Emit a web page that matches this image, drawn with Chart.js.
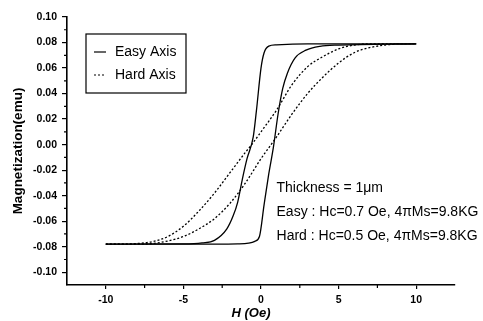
<!DOCTYPE html>
<html>
<head>
<meta charset="utf-8">
<script src="https://cdn.jsdelivr.net/npm/chart.js@4.4.1/dist/chart.umd.min.js"></script>
<style>
	html, body { margin: 0; padding: 0; background: #fff; }
	#wrap { width: 483px; height: 321px; position: relative; }
</style>
</head>
<body>
<div id="wrap"><canvas id="loop_chart"></canvas></div>
<script>
// cycles M(H) du film, H en Oe, M en emu (branches rangées par H croissant)
const easyAscH = [-10, -3, -1.5, -0.8, -0.4, -0.1, 0.2, 0.5, 0.8, 1.1, 1.4, 1.7, 2.2, 2.9, 3.8, 5, 10];
const easyAscM = [-0.078, -0.078, -0.0778, -0.0772, -0.0758, -0.072, -0.047, -0.023, -0.002, 0.024, 0.044, 0.056, 0.068, 0.074, 0.077, 0.078, 0.079];

const easyDescH = [-10, -5, -3.8, -3.0, -2.2, -1.8, -1.5, -1.2, -0.9, -0.5, -0.3, 0, 0.2, 0.5, 1.0, 3, 10];
const easyDescM = [-0.078, -0.0778, -0.077, -0.075, -0.066, -0.056, -0.045, -0.027, -0.011, 0.006, 0.026, 0.060, 0.072, 0.0772, 0.0782, 0.079, 0.079];

const hardDescH = [-10, -9, -8, -7, -6, -5, -4, -3, -2, -1, -0.6, 0, 1, 2, 3, 4, 5, 6, 7, 8, 10];
const hardDescM = [-0.078, -0.078, -0.0775, -0.076, -0.072, -0.064, -0.052, -0.038, -0.022, -0.006, 0, 0.010, 0.027, 0.047, 0.061, 0.069, 0.075, 0.078, 0.079, 0.079, 0.079];

const hardAscH = [-10, -8, -7, -6, -5, -4, -3, -2, -1, 0, 0.65, 1, 2, 3, 4, 5, 6, 7, 8, 9, 10];
const hardAscM = [-0.078, -0.078, -0.0775, -0.0755, -0.072, -0.066, -0.058, -0.046, -0.030, -0.011, 0, 0.006, 0.024, 0.040, 0.053, 0.064, 0.072, 0.076, 0.078, 0.079, 0.079];

const xTicks = [-10, -5, 0, 5, 10];
const xMinorTicks = [-7.5, -2.5, 2.5, 7.5];
const yTicks = [-0.10, -0.08, -0.06, -0.04, -0.02, 0.00, 0.02, 0.04, 0.06, 0.08, 0.10];
const yMinorTicks = [-0.09, -0.07, -0.05, -0.03, -0.01, 0.01, 0.03, 0.05, 0.07, 0.09];

const legendLabels = ['Easy Axis', 'Hard Axis'];
const noteLines = ['Thickness = 1\u03bcm', 'Easy : Hc=0.7 Oe, 4\u03c0Ms=9.8KG', 'Hard : Hc=0.5 Oe, 4\u03c0Ms=9.8KG'];
const xTitle = 'H (Oe)';
const yTitle = 'Magnetization(emu)';

const FONT = '"Liberation Sans", Arial, sans-serif';
Chart.defaults.font.family = FONT;
Chart.defaults.color = '#000';

function toPoints(hs, ms)
{
	return hs.map((h, i) => ({ x: h, y: ms[i] }));
}

function branch(label, hs, ms, dashed)
{
	return {
		label: label,
		data: toPoints(hs, ms),
		showLine: true,
		borderColor: '#000',
		borderWidth: 1.3,
		borderDash: dashed ? [2, 2] : [],
		pointRadius: 0,
		cubicInterpolationMode: 'monotone',
		fill: false
	};
}

// petits traits intermédiaires sur les axes
const minorTicks = {
	id: 'minorTicks',
	afterDraw(chart)
	{
		const { ctx, chartArea, scales: { x, y } } = chart;
		ctx.save();
		ctx.strokeStyle = '#000';
		ctx.lineWidth = 1.2;
		ctx.beginPath();
		xMinorTicks.forEach(v => {
			const px = x.getPixelForValue(v);
			ctx.moveTo(px, chartArea.bottom);
			ctx.lineTo(px, chartArea.bottom + 3);
		});
		yMinorTicks.forEach(v => {
			const py = y.getPixelForValue(v);
			ctx.moveTo(chartArea.left, py);
			ctx.lineTo(chartArea.left - 3, py);
		});
		ctx.stroke();
		ctx.restore();
	}
};

// légende encadrée dans le coin haut gauche + texte des paramètres
const boxAndNotes = {
	id: 'boxAndNotes',
	afterDraw(chart)
	{
		const { ctx, chartArea, scales: { x, y } } = chart;
		ctx.save();

		const bx = chartArea.left + 19, by = chartArea.top + 17;
		ctx.strokeStyle = '#000';
		ctx.lineWidth = 1.2;
		ctx.strokeRect(bx, by, 100, 59);

		ctx.font = '14px ' + FONT;
		ctx.fillStyle = '#000';
		ctx.textBaseline = 'middle';
		legendLabels.forEach((lab, i) => {
			const ly = by + 18 + i * 23;
			ctx.setLineDash(i === 0 ? [] : [2, 2]);
			ctx.beginPath();
			ctx.moveTo(bx + 8, ly);
			ctx.lineTo(bx + 20, ly);
			ctx.stroke();
			ctx.fillText(lab, bx + 29, ly);
		});
		ctx.setLineDash([]);

		ctx.textBaseline = 'alphabetic';
		const nx = x.getPixelForValue(1.0);
		const ny = y.getPixelForValue(-0.0375);
		noteLines.forEach((t, i) => ctx.fillText(t, nx, ny + i * 24));

		ctx.font = 'italic bold 13px ' + FONT;
		ctx.textAlign = 'center';
		ctx.textBaseline = 'middle';
		ctx.fillText(xTitle, (chartArea.left + chartArea.right) / 2 - 10, 313);
		ctx.restore();
	}
};

function drawLoops()
{
	const ctx = document.getElementById('loop_chart').getContext('2d');
	new Chart(ctx, {
		type: 'scatter',
		data: {
			datasets: [
				branch(legendLabels[0], easyAscH, easyAscM, false),
				branch(legendLabels[0], easyDescH, easyDescM, false),
				branch(legendLabels[1], hardAscH, hardAscM, true),
				branch(legendLabels[1], hardDescH, hardDescM, true)
			]
		},
		options: {
			responsive: true,
			maintainAspectRatio: false,
			animation: false,
			layout: { padding: { top: 17, right: 28, bottom: 0, left: 0 } },
			plugins: {
				legend: { display: false },
				tooltip: { enabled: false }
			},
			scales: {
				x: {
					type: 'linear',
					min: -12.5,
					max: 12.5,
					afterBuildTicks: s => { s.ticks = xTicks.map(v => ({ value: v })); },
					afterFit: s => { s.height = 36; },
					ticks: {
						font: { size: 10.5, weight: 'bold' },
						padding: 5,
						maxRotation: 0,
						autoSkip: false,
						callback: v => String(v)
					},
					grid: { drawOnChartArea: false, drawTicks: true, tickLength: 4, color: '#000', lineWidth: 1.2 },
					border: { display: true, color: '#000', width: 1.6 },
					title: { display: false }
				},
				y: {
					type: 'linear',
					min: -0.11,
					max: 0.10,
					afterBuildTicks: s => { s.ticks = yTicks.map(v => ({ value: v })); },
					afterFit: s => { s.width = 67; },
					ticks: {
						font: { size: 10.5, weight: 'bold' },
						padding: 5,
						autoSkip: false,
						callback: v => v.toFixed(2)
					},
					grid: { drawOnChartArea: false, drawTicks: true, tickLength: 5, color: '#000', lineWidth: 1.2 },
					border: { display: true, color: '#000', width: 1.6 },
					title: {
						display: true,
						text: yTitle,
						font: { size: 13.5, weight: 'bold' },
						padding: { top: 10, bottom: 0 }
					}
				}
			}
		},
		plugins: [minorTicks, boxAndNotes]
	});
}

drawLoops();
</script>
</body>
</html>
